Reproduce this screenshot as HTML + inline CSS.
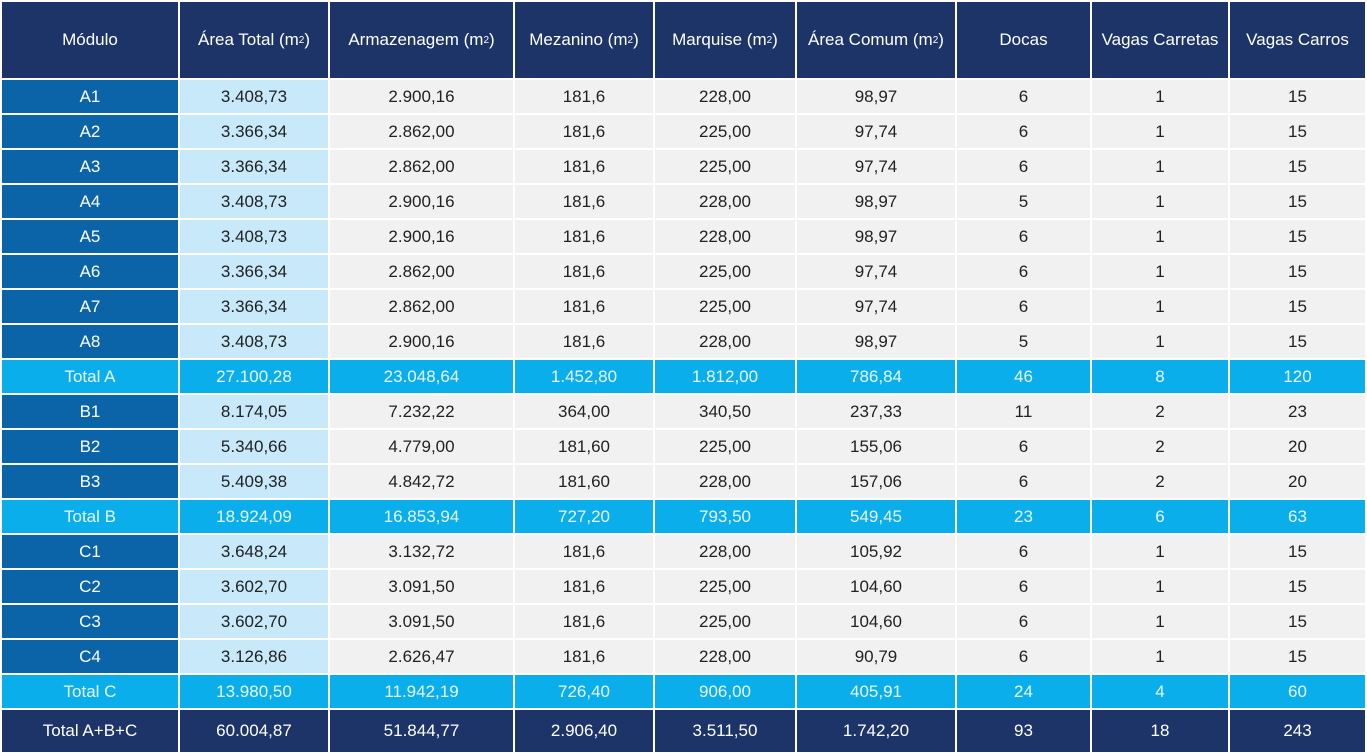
<!DOCTYPE html>
<html><head><meta charset="utf-8"><style>
html,body{margin:0;padding:0;background:#fff;width:1367px;height:753px;overflow:hidden}
#t{position:relative;width:1367px;height:753px;font-family:"Liberation Sans",sans-serif}
.c{position:absolute;display:flex;align-items:center;justify-content:center;font-size:17px;color:#222;white-space:nowrap}
.h{background:#1d3468;color:#fff;font-size:17px}
.m{background:#0b64a8;color:#fff}
.a{background:#c7e9f9}
.d{background:#f1f1f1}
.tot{background:#0aaeea;color:#e8f8ff}
.g{background:#1d3468;color:#fff}
sup{font-size:10px;vertical-align:6px}
</style></head><body>
<div id="t"></div>
<script>
const headers=["Módulo","Área Total (m²)","Armazenagem (m²)","Mezanino (m²)","Marquise (m²)","Área Comum (m²)","Docas","Vagas Carretas","Vagas Carros"];
const modules=["A1","A2","A3","A4","A5","A6","A7","A8","Total A","B1","B2","B3","Total B","C1","C2","C3","C4","Total C","Total A+B+C"];
const areaTotal=["3.408,73","3.366,34","3.366,34","3.408,73","3.408,73","3.366,34","3.366,34","3.408,73","27.100,28","8.174,05","5.340,66","5.409,38","18.924,09","3.648,24","3.602,70","3.602,70","3.126,86","13.980,50","60.004,87"];
const armazenagem=["2.900,16","2.862,00","2.862,00","2.900,16","2.900,16","2.862,00","2.862,00","2.900,16","23.048,64","7.232,22","4.779,00","4.842,72","16.853,94","3.132,72","3.091,50","3.091,50","2.626,47","11.942,19","51.844,77"];
const mezanino=["181,6","181,6","181,6","181,6","181,6","181,6","181,6","181,6","1.452,80","364,00","181,60","181,60","727,20","181,6","181,6","181,6","181,6","726,40","2.906,40"];
const marquise=["228,00","225,00","225,00","228,00","228,00","225,00","225,00","228,00","1.812,00","340,50","225,00","228,00","793,50","228,00","225,00","225,00","228,00","906,00","3.511,50"];
const areaComum=["98,97","97,74","97,74","98,97","98,97","97,74","97,74","98,97","786,84","237,33","155,06","157,06","549,45","105,92","104,60","104,60","90,79","405,91","1.742,20"];
const docas=["6","6","6","5","6","6","6","5","46","11","6","6","23","6","6","6","6","24","93"];
const carretas=["1","1","1","1","1","1","1","1","8","2","2","2","6","1","1","1","1","4","18"];
const carros=["15","15","15","15","15","15","15","15","120","23","20","20","63","15","15","15","15","60","243"];
const cols=[modules,areaTotal,armazenagem,mezanino,marquise,areaComum,docas,carretas,carros];
const xs=[[2,178],[180,328],[330,513],[515,653],[655,795],[797,955],[957,1090],[1092,1228],[1230,1365]];
const t=document.getElementById('t');
function cell(x,y,w,h,cls,html){
  const d=document.createElement('div');
  d.className='c '+cls;
  d.style.left=x+'px';d.style.top=y+'px';d.style.width=w+'px';d.style.height=h+'px';
  d.innerHTML=html;
  t.appendChild(d);return d;
}
headers.forEach((h,j)=>{
  const d=cell(xs[j][0],2,xs[j][1]-xs[j][0],76,'h',h.replace('²','<sup>2</sup>'));
  
  
});
modules.forEach((m,i)=>{
  const last=i===modules.length-1;
  const y=80+35*i, h=last?42:33;
  const isTot=m.startsWith('Total');
  cols.forEach((col,j)=>{
    let cls;
    if(last) cls='g'; else if(isTot) cls='tot'; else if(j===0) cls='m'; else if(j===1) cls='a'; else cls='d';
    const d=cell(xs[j][0],y,xs[j][1]-xs[j][0],h,cls,col[i]);
    
    
  });
});
</script>
</body></html>
